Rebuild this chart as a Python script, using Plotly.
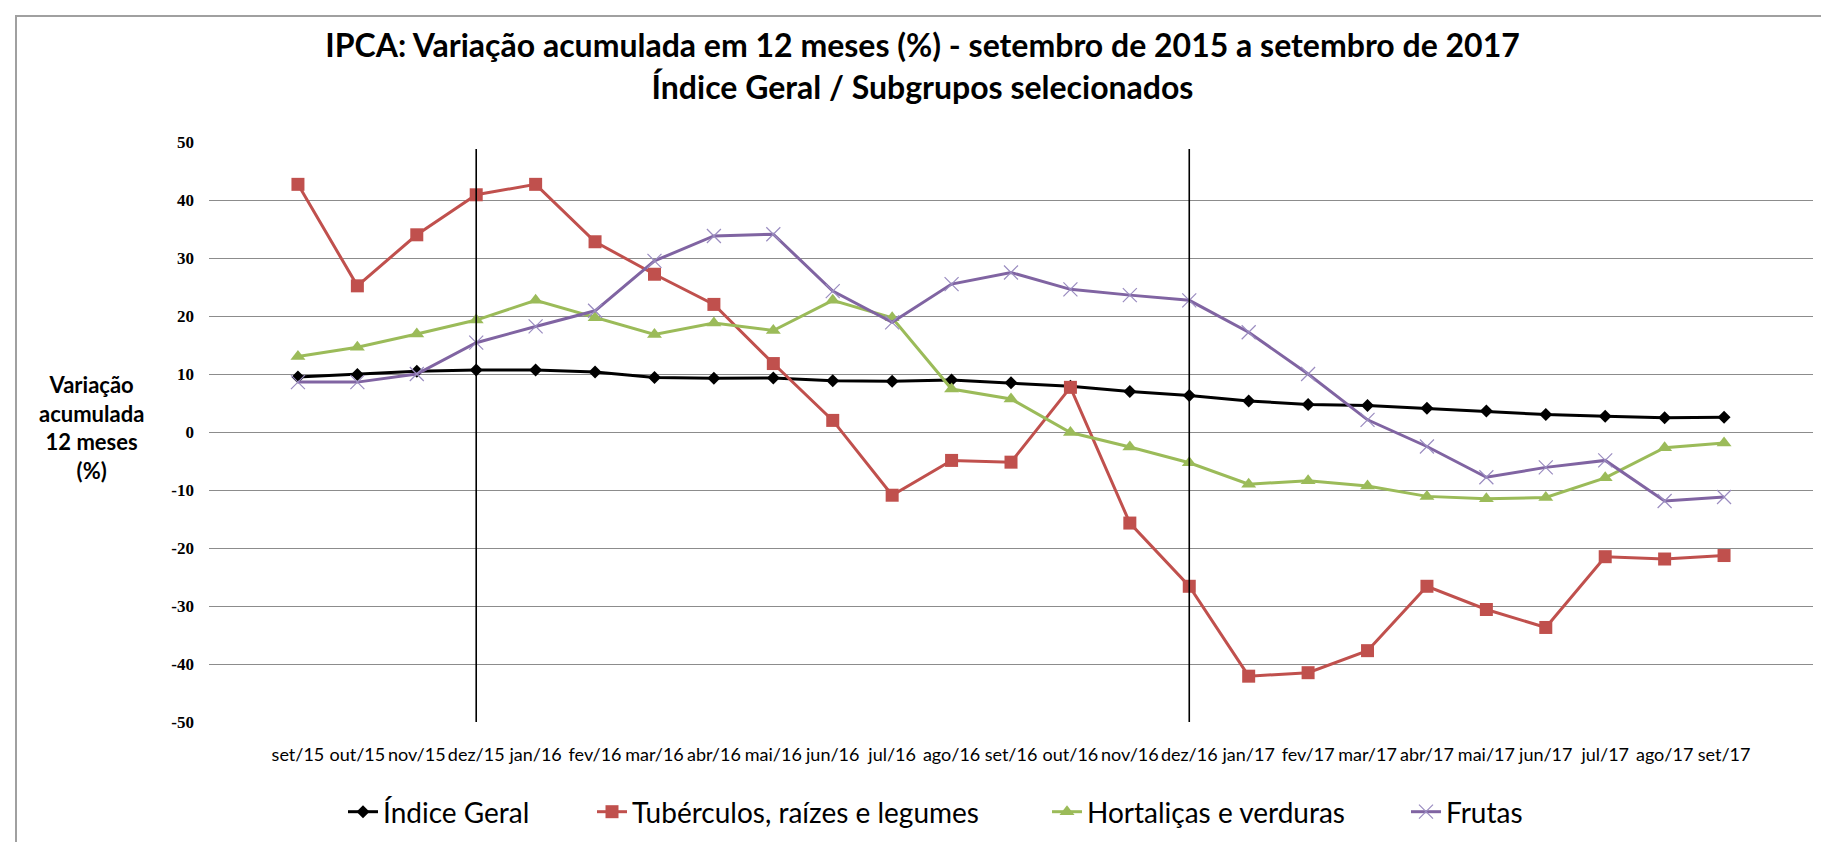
import plotly.graph_objects as go

# ---------------- data ----------------
meses = ["set/15", "out/15", "nov/15", "dez/15", "jan/16", "fev/16", "mar/16", "abr/16",
         "mai/16", "jun/16", "jul/16", "ago/16", "set/16", "out/16", "nov/16", "dez/16",
         "jan/17", "fev/17", "mar/17", "abr/17", "mai/17", "jun/17", "jul/17", "ago/17", "set/17"]

indice_geral = [9.49, 9.93, 10.48, 10.67, 10.71, 10.36, 9.39, 9.28, 9.32, 8.84, 8.74, 8.97,
                8.48, 7.87, 6.99, 6.29, 5.35, 4.76, 4.57, 4.08, 3.60, 3.00, 2.71, 2.46, 2.54]

tuberculos = [42.7, 25.2, 34.0, 40.9, 42.7, 32.8, 27.2, 22.0, 11.8, 2.0, -10.9, -4.9,
              -5.2, 7.7, -15.7, -26.6, -42.1, -41.5, -37.7, -26.6, -30.6, -33.7, -21.5, -21.9, -21.3]

hortalicas = [13.0, 14.6, 16.9, 19.3, 22.7, 19.7, 16.8, 18.8, 17.5, 22.7, 19.7, 7.4,
              5.7, -0.1, -2.6, -5.3, -9.0, -8.4, -9.3, -11.1, -11.5, -11.3, -7.9, -2.7, -1.9]

frutas = [8.6, 8.6, 10.0, 15.4, 18.2, 20.9, 29.5, 33.8, 34.1, 24.3, 18.9, 25.5,
          27.5, 24.6, 23.6, 22.7, 17.2, 10.0, 2.1, -2.5, -7.8, -6.1, -4.9, -11.9, -11.2]

y_ticks = [50, 40, 30, 20, 10, 0, -10, -20, -30, -40, -50]
marcos = ["dez/15", "dez/16"]

titulo_1 = "IPCA: Variação acumulada em 12 meses (%) - setembro de 2015 a setembro de 2017"
titulo_2 = "Índice Geral / Subgrupos selecionados"
eixo_y_titulo = "Variação<br>acumulada<br>12 meses<br>(%)"

# ---------------- layout constants ----------------
W, H = 1829, 842
L, R, T, B = 201, 24, 134, 128
PW = W - L - R
PH = H - T - B


def px_x(p):
    return (p - L) / PW


def px_y(p):
    return (H - B - p) / PH


SANS = "Lato, 'Open Sans', sans-serif"
SERIF = "'Liberation Serif', 'DejaVu Serif', serif"

series = [
    dict(name="Índice Geral", y=indice_geral, color="#000000",
         marker=dict(symbol="diamond", size=10, color="#000000"), legend="legend", lx=341),
    dict(name="Tubérculos, raízes e legumes", y=tuberculos, color="#C0504D",
         marker=dict(symbol="square", size=13, color="#C0504D"), legend="legend2", lx=590),
    dict(name="Hortaliças e verduras", y=hortalicas, color="#9BBB59",
         marker=dict(symbol="triangle-up", size=13, color="#9BBB59"), legend="legend3", lx=1045),
    dict(name="Frutas", y=frutas, color="#8064A2",
         marker=dict(symbol="x-thin-open", size=14, color="#9A8CC0",
                     line=dict(width=1.2, color="#9A8CC0")), legend="legend4", lx=1404),
]

fig = go.Figure()
for s in series:
    fig.add_trace(go.Scatter(
        x=meses, y=s["y"], name=s["name"], mode="lines+markers",
        line=dict(color=s["color"], width=3),
        marker=s["marker"], legend=s["legend"],
    ))

legend_layout = {}
for s in series:
    legend_layout[s["legend"]] = dict(
        x=px_x(s["lx"] - 6), xanchor="left",
        y=px_y(804), yanchor="middle",
        orientation="h", bgcolor="rgba(0,0,0,0)",
        font=dict(family=SANS, size=28, color="#000000"),
    )

shapes = [
    # outer chart border
    dict(type="rect", xref="paper", yref="paper",
         x0=px_x(8), x1=px_x(1825), y0=px_y(836), y1=px_y(8),
         line=dict(color="#A0A0A0", width=2), layer="below"),
]
for m in marcos:
    shapes.append(dict(type="line", xref="x", yref="y", x0=m, x1=m, y0=-50, y1=48.8,
                       line=dict(color="#000000", width=1.6)))

fig.update_layout(
    width=W, height=H,
    margin=dict(l=L, r=R, t=T, b=B, autoexpand=False),
    paper_bgcolor="#FFFFFF", plot_bgcolor="#FFFFFF",
    showlegend=True,
    title=dict(text="<b>" + titulo_1 + "</b><br><b>" + titulo_2 + "</b>",
               x=0.5, xref="container", xanchor="center",
               y=1 - 49 / H, yref="container", yanchor="middle",
               font=dict(family=SANS, size=32, color="#000000")),
    xaxis=dict(type="category", categoryorder="array", categoryarray=meses,
               showgrid=False, showline=False, zeroline=False, ticks="",
               tickfont=dict(family=SANS, size=18, color="#000000"),
               ticklabelstandoff=20, fixedrange=True, automargin=False),
    yaxis=dict(range=[-50, 50], tickvals=y_ticks, ticktext=[str(v) for v in y_ticks],
               showgrid=True, gridcolor="#8C8C8C", gridwidth=1,
               zeroline=False, showline=False, ticks="",
               tickfont=dict(family=SERIF, size=17, color="#000000", weight="bold"),
               ticklabelstandoff=14, fixedrange=True, automargin=False),
    shapes=shapes,
    annotations=[
        dict(text="<b>" + eixo_y_titulo + "</b>", xref="paper", yref="paper",
             x=px_x(83), y=px_y(419), xanchor="center", yanchor="middle",
             showarrow=False, align="center",
             font=dict(family=SANS, size=22, color="#000000")),
    ],
    **legend_layout,
)

fig.write_html("out.html")
